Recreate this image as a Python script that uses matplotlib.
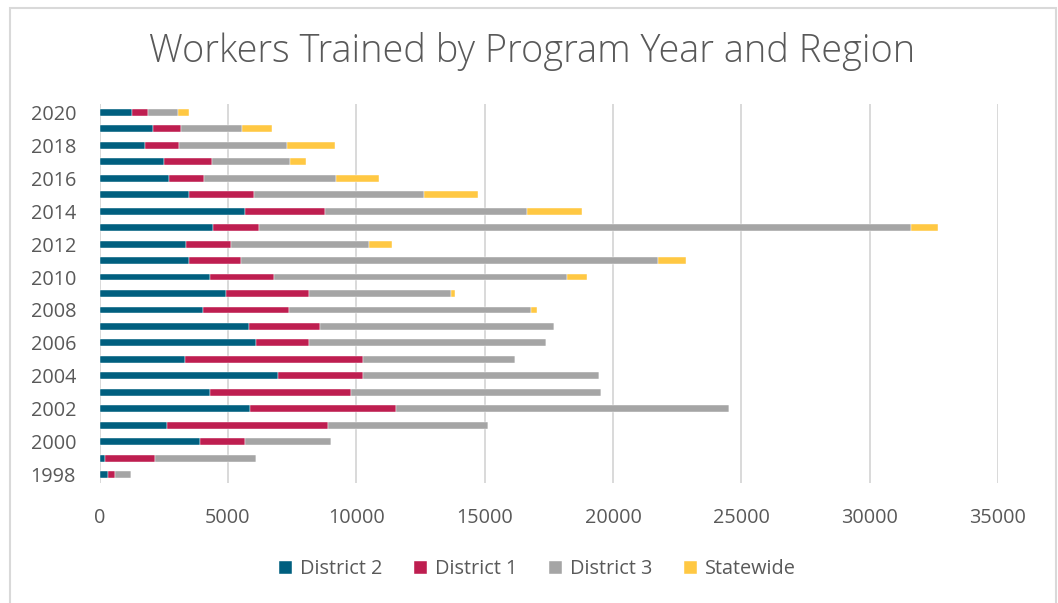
import numpy as np
import matplotlib
matplotlib.use("Agg")
import matplotlib.pyplot as plt

plt.rcParams['font.family'] = ['Open Sans', 'DejaVu Sans']

years = list(range(1998, 2021))

# values, 1998 .. 2020
district2 = [310, 220, 3910, 2620, 5860, 4300, 6960, 3320, 6100, 5810, 4010, 4920,
             4300, 3470, 3360, 4430, 5660, 3470, 2710, 2510, 1770, 2060, 1260]
district1 = [300, 1940, 1750, 6290, 5690, 5510, 3300, 6940, 2060, 2790, 3360, 3240,
             2500, 2040, 1740, 1780, 3110, 2540, 1350, 1850, 1330, 1100, 610]
district3 = [600, 3940, 3340, 6240, 12990, 9740, 9200, 5940, 9240, 9090, 9440, 5540,
             11410, 16240, 5400, 25400, 7880, 6640, 5150, 3040, 4210, 2400, 1180]
statewide = [0, 0, 0, 0, 0, 0, 0, 0, 0, 0, 240, 160,
             790, 1100, 890, 1040, 2150, 2110, 1690, 650, 1850, 1140, 420]

series_names = ['District 2', 'District 1', 'District 3', 'Statewide']
series_colors = ['#005F7F', '#BE1E50', '#A5A5A5', '#FFC843']
series_values = [district2, district1, district3, statewide]

fig = plt.figure(figsize=(10.58, 6.03), dpi=100)
ax = fig.add_axes([0.0942, 0.199, 0.849, 0.6285])

# chart border
fig.patches.append(plt.Rectangle((10 / 1058, -0.01), 1045.5 / 1058, 1 - 8 / 603 + 0.01,
                                 transform=fig.transFigure, fill=False,
                                 edgecolor='#D9D9D9', linewidth=1.5))

y = np.arange(len(years))
left = np.zeros(len(years))
for name, color, vals in zip(series_names, series_colors, series_values):
    vals = np.array(vals, dtype=float)
    ax.barh(y, vals, left=left, height=0.42, color=color, label=name,
            edgecolor='white', linewidth=0.3)
    left += vals

ax.set_xlim(0, 35000)
ax.set_ylim(-0.5, len(years) - 0.5)
ax.set_xticks(np.arange(0, 35001, 5000))
ax.set_yticks(y[::2])
ax.set_yticklabels([str(v) for v in years[::2]])

ax.grid(axis='x', color='#D9D9D9', linewidth=1.4)
ax.set_axisbelow(True)
for s in ax.spines.values():
    s.set_visible(False)
ax.tick_params(length=0, labelsize=14.3, labelcolor='#595959')
ax.tick_params(axis='x', pad=18)
ax.tick_params(axis='y', pad=17)

fig.text(0.503, 0.915, 'Workers Trained by Program Year and Region', ha='center', va='center',
         fontsize=27.3, color='#595959', fontweight='light')

leg = fig.legend(loc='center', bbox_to_anchor=(0.508, 0.056), ncol=4, frameon=False,
                 fontsize=14.3, handlelength=0.65, handleheight=0.65, handletextpad=0.4,
                 columnspacing=1.6)
for t in leg.get_texts():
    t.set_color('#595959')

fig.savefig('out.png', dpi=100)
